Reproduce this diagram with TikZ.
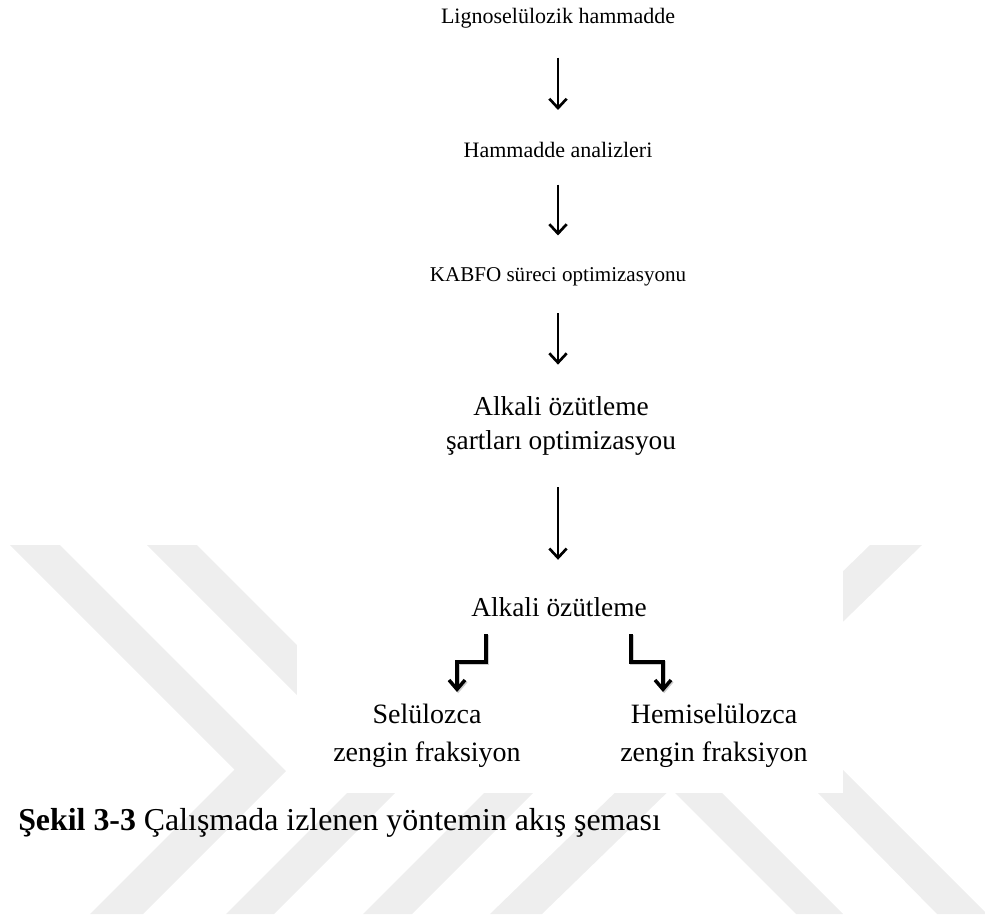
\documentclass[tikz,border=0pt]{standalone}
\usepackage{fontspec}
\setmainfont{Liberation Serif}
\usetikzlibrary{arrows.meta}
\definecolor{wmgray}{RGB}{238,238,238}
\tikzset{
  steptext/.style={inner sep=0pt, align=center},
  flowarrow/.style={line width=2pt, -{Straight Barb[length=7pt,width=13pt]}},
  bentarrow/.style={line width=2.6pt, -{Straight Barb[length=7pt,width=12pt]},
    preaction={draw, black!20, line width=2.6pt, transform canvas={shift={(0.9pt,-0.9pt)}}}}
}
\newcommand{\smallfnt}{\fontsize{16.5}{20}\selectfont}
\newcommand{\midfnt}{\fontsize{20.5}{25}\selectfont}
\newcommand{\bigfnt}{\fontsize{21}{28.5}\selectfont}
\begin{document}
\begin{tikzpicture}[x=0.75pt,y=-0.75pt]
  \useasboundingbox (0,0) rectangle (985,920);
  % watermark behind the figure
  \fill[wmgray] (10,545) -- (60,545) -- (286,771) -- (143,914) -- (90,914) -- (234.5,769.5) -- cycle;
  \fill[wmgray] (147,545) -- (197,545) -- (420,768) -- (274,914) -- (226,914) -- (371,769) -- cycle;
  \fill[wmgray] (363,914) -- (603,674) -- (843,914) -- (796,914) -- (604,722) -- (412,914) -- cycle;
  \fill[wmgray] (490,914) -- (542,914) -- (922,545) -- (870,545) -- cycle;
  \fill[wmgray] (937,914) -- (987,914) -- (742,669) -- (744,718) -- cycle;
  \fill[white] (297,0) rectangle (843,793);
  % flow steps
  \node[steptext, font=\smallfnt] (raw) at (558,18) {Lignoselülozik hammadde};
  \node[steptext, font=\smallfnt] (anl) at (558,150) {Hammadde analizleri};
  \node[steptext, font=\fontsize{15.8}{20}\selectfont] (kabfo) at (558,277) {KABFO süreci optimizasyonu};
  \node[steptext, font=\midfnt] (opt) at (561,426) {Alkali özütleme\\şartları optimizasyou};
  \node[steptext, font=\midfnt] (ext) at (559,607) {Alkali özütleme};
  \node[steptext, font=\bigfnt] (cel) at (427,736) {Selülozca\\zengin fraksiyon};
  \node[steptext, font=\bigfnt] (hem) at (714,736) {Hemiselülozca\\zengin fraksiyon};
  \draw[flowarrow, shorten <=22pt, shorten >=24pt] (raw.south) -- (anl.north);
  \draw[flowarrow, shorten <=20pt, shorten >=24pt] (anl.south) -- (kabfo.north);
  \draw[flowarrow, shorten <=20pt, shorten >=24pt] (kabfo.south) -- (kabfo.south |- opt.north);
  \draw[flowarrow, shorten <=24pt, shorten >=28pt] (kabfo.south |- opt.south) -- (kabfo.south |- ext.north);
  % split into two fractions
  \coordinate (splitL) at (486,634);
  \coordinate (splitR) at (631,634);
  \draw[bentarrow] (splitL) -- ++(0,28) -- ++(-29,0) -- ++(0,30);
  \draw[bentarrow] (splitR) -- ++(0,28) -- ++(32,0) -- ++(0,30);
  % caption
  \node[anchor=west, inner sep=0pt, font=\fontsize{23.9}{28}\selectfont] (cap) at (18,823)
    {\textbf{Şekil 3-3} Çalışmada izlenen yöntemin akış şeması};
\end{tikzpicture}
\end{document}
